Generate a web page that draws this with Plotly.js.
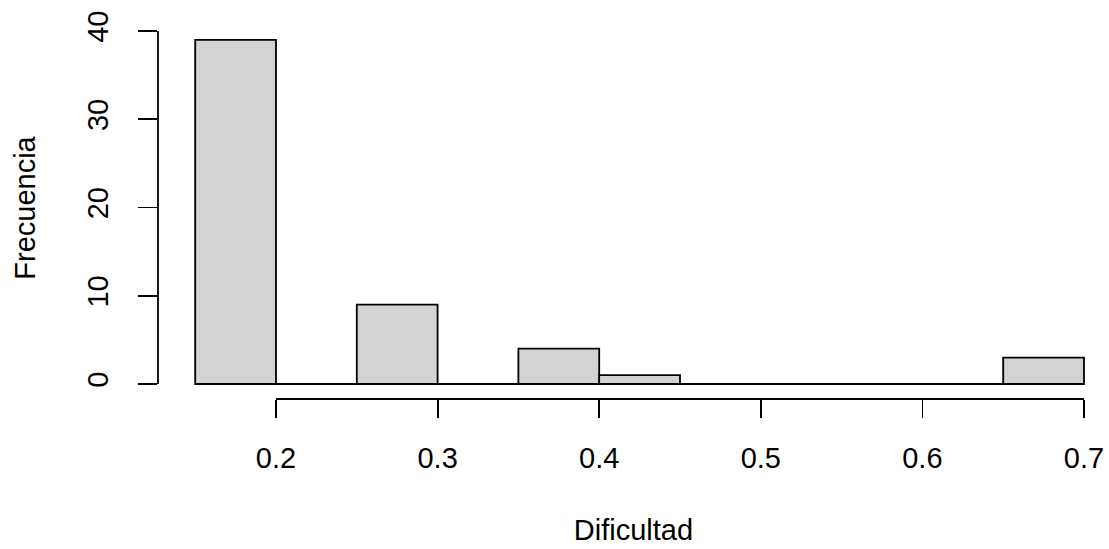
<!DOCTYPE html>
<html>
<head>
<meta charset="utf-8">
<script src="https://cdn.plot.ly/plotly-3.0.1.min.js"></script>
<style>html,body{margin:0;padding:0;background:#fff;}#chart{width:1109px;height:549px;}</style>
</head>
<body>
<div id="chart"></div>
<script>
// Histogram of "Dificultad": bin edges and counts
const binEdges = [0.15, 0.20, 0.25, 0.30, 0.35, 0.40, 0.45, 0.50, 0.55, 0.60, 0.65, 0.70];
const counts   = [39, 0, 9, 0, 4, 1, 0, 0, 0, 0, 3];
const xTicks = [0.2, 0.3, 0.4, 0.5, 0.6, 0.7];
const xTickLabels = ["0.2", "0.3", "0.4", "0.5", "0.6", "0.7"];
const yTicks = [0, 10, 20, 30, 40];
const yTickLabels = ["0", "10", "20", "30", "40"];
const xTitle = "Dificultad";
const yTitle = "Frecuencia";

const mids = counts.map((c, i) => (binEdges[i] + binEdges[i + 1]) / 2);
const widths = counts.map((c, i) => binEdges[i + 1] - binEdges[i]);

const FONT = {family: "Liberation Sans, Arial, sans-serif", size: 29, color: "#000"};
const LW = 1.8;

const baseline = {
  type: "scatter", mode: "lines",
  x: [binEdges[0], binEdges[binEdges.length - 1]], y: [0, 0],
  line: {color: "#000", width: LW}, hoverinfo: "skip", showlegend: false
};
const bars = {
  type: "bar", x: mids, y: counts, width: widths,
  marker: {color: "#D3D3D3", line: {color: "#000", width: LW}},
  showlegend: false
};

const layout = {
  width: 1109, height: 549,
  margin: {l: 158, r: 0, t: 17, b: 150, pad: 0},
  paper_bgcolor: "#fff", plot_bgcolor: "#fff",
  font: FONT,
  bargap: 0,
  xaxis: {
    range: [0.12698, 0.71547], showgrid: false, zeroline: false, showline: false,
    tickmode: "array", tickvals: xTicks, ticktext: xTickLabels,
    ticks: "outside", ticklen: 18, tickwidth: LW, tickcolor: "#000",
    ticklabelstandoff: 15,
    tickfont: FONT,
    title: {text: xTitle, font: FONT, standoff: 46},
    automargin: false
  },
  yaxis: {
    range: [-1.70, 41.59], showgrid: false, zeroline: false, showline: false,
    tickmode: "array", tickvals: yTicks, ticktext: yTickLabels,
    ticks: "outside", ticklen: 19, tickwidth: LW, tickcolor: "#000",
    tickangle: -90, ticklabelstandoff: 18,
    tickfont: FONT,
    title: {text: yTitle, font: FONT, standoff: 38},
    automargin: false
  },
  shapes: [
    {type: "line", xref: "x", yref: "paper", x0: xTicks[0], x1: xTicks[xTicks.length - 1], y0: 0, y1: 0,
     line: {color: "#000", width: LW}},
    {type: "line", xref: "paper", yref: "y", x0: 0, x1: 0, y0: yTicks[0], y1: yTicks[yTicks.length - 1],
     line: {color: "#000", width: LW}}
  ]
};

Plotly.newPlot("chart", [baseline, bars], layout, {displayModeBar: false, staticPlot: true});
</script>
</body>
</html>
